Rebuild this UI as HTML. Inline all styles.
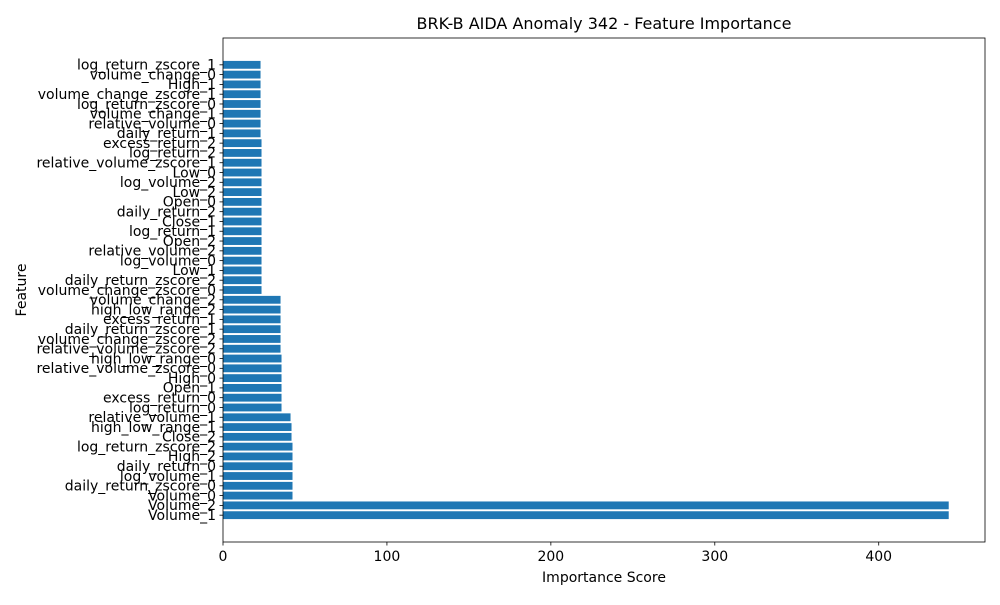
<!DOCTYPE html>
<html><head><meta charset="utf-8"><style>
body{margin:0;background:#fff;font-family:"Liberation Sans","DejaVu Sans",sans-serif}
</style></head><body>
<svg id="chart" width="1000" height="600" xmlns="http://www.w3.org/2000/svg" font-family="DejaVu Sans, Liberation Sans, sans-serif"></svg>
<script>
const features = ["log_return_zscore_1","volume_change_0","High_1","volume_change_zscore_1","log_return_zscore_0","volume_change_1","relative_volume_0","daily_return_1","excess_return_2","log_return_2","relative_volume_zscore_1","Low_0","log_volume_2","Low_2","Open_0","daily_return_2","Close_1","log_return_1","Open_2","relative_volume_2","log_volume_0","Low_1","daily_return_zscore_2","volume_change_zscore_0","volume_change_2","high_low_range_2","excess_return_1","daily_return_zscore_1","volume_change_zscore_2","relative_volume_zscore_2","high_low_range_0","relative_volume_zscore_0","High_0","Open_1","excess_return_0","log_return_0","relative_volume_1","high_low_range_1","Close_2","log_return_zscore_2","High_2","daily_return_0","log_volume_1","daily_return_zscore_0","Volume_0","Volume_2","Volume_1"];
const importance = [22.9,22.9,22.9,22.9,22.9,22.9,22.9,22.9,23.5,23.5,23.5,23.5,23.5,23.5,23.5,23.5,23.5,23.5,23.5,23.5,23.5,23.5,23.5,23.5,35.1,35.1,35.1,35.1,35.1,35.1,35.7,35.7,35.7,35.7,35.7,35.7,41.2,41.8,41.8,42.4,42.4,42.4,42.4,42.4,42.4,442.7,442.7];
const xTicks = [0,100,200,300,400];

const svg = document.getElementById('chart');
const NS = 'http://www.w3.org/2000/svg';
const L=223,R=985,T=38,B=542;
const n = features.length;
const xMax = Math.max(...importance)*1.05;
const xs = v => L + v/xMax*(R-L);
const yMin = -0.4-0.05*(n-1+0.8), yMax = n-1+0.4+0.05*(n-1+0.8);
const ys = v => B - (v-yMin)/(yMax-yMin)*(B-T);
function mk(tag, attrs, parent){const e=document.createElementNS(NS,tag);for(const k in attrs)e.setAttribute(k,attrs[k]);(parent||svg).appendChild(e);return e;}

const title = mk('text',{x:(L+R)/2,y:29,'text-anchor':'middle','font-size':16});
title.textContent='BRK-B AIDA Anomaly 342 - Feature Importance';



features.forEach((f,i)=>{
  const idx = n-1-i;
  const yc = ys(idx);
  const h = ys(idx-0.4)-ys(idx+0.4);
  const r = mk('rect',{x:xs(0),y:yc-h/2,width:xs(importance[i])-xs(0),height:h,fill:'#1f77b4'});
  
  
  mk('line',{x1:L-3.5,x2:L,y1:yc,y2:yc,stroke:'#000','stroke-width':0.8});
  const t = mk('text',{x:L-7,y:yc+4.8,'text-anchor':'end','font-size':14});
  t.textContent=f;
  
  
});
xTicks.forEach(v=>{
  const x=xs(v);
  mk('line',{x1:x,x2:x,y1:B,y2:B+3.5,stroke:'#000','stroke-width':0.8});
  const t=mk('text',{x:x,y:B+19,'text-anchor':'middle','font-size':14});
  t.textContent=v;
  
  
});
const frame = mk('rect',{x:L,y:T,width:R-L,height:B-T,fill:'none',stroke:'#000','stroke-width':0.8});


const xl=mk('text',{x:(L+R)/2,y:582,'text-anchor':'middle','font-size':14});
xl.textContent='Importance Score';


const yl=mk('text',{x:0,y:0,'text-anchor':'middle','font-size':14,transform:`translate(26,${(T+B)/2}) rotate(-90)`});
yl.textContent='Feature';


</script>
</body></html>
